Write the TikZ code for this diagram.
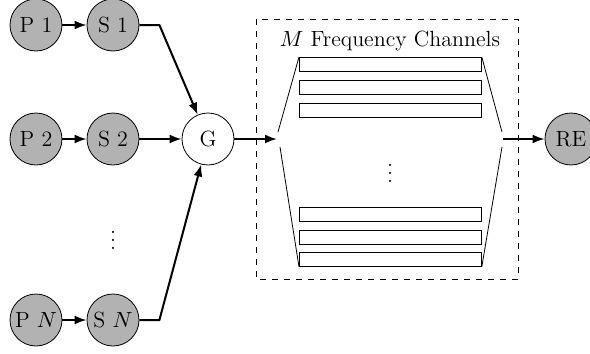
\documentclass[tikz,border=0pt]{standalone}
\usetikzlibrary{arrows.meta}
\begin{document}
\begin{tikzpicture}[x=0.5pt,y=-0.5pt,
  src/.style={circle,draw,fill=black!30,minimum size=26pt,inner sep=0pt,font=\fontsize{11}{13}\selectfont},
  gnode/.style={circle,draw,fill=white,minimum size=26pt,inner sep=0pt,font=\fontsize{11}{13}\selectfont},
  chan/.style={draw,minimum width=91pt,minimum height=7pt,inner sep=0pt,anchor=north west},
  arr/.style={-{Latex[length=6pt,width=4.5pt]},line width=1pt},
  lbl/.style={font=\fontsize{11}{13}\selectfont}]
\useasboundingbox (0,0) rectangle (590,354);
% dashed box
\draw[dashed] (256,19) rectangle (518,279);
\node[lbl] (title) at (390,41) {$M$ Frequency Channels};
% sources
\node[src] (P1) at (36,25) {P 1};
\node[src] (S1) at (113,25) {S 1};
\node[src] (P2) at (36,139) {P 2};
\node[src] (S2) at (113,139) {S 2};
\node[src] (PN) at (36,320) {P $N$};
\node[src] (SN) at (113,320) {S $N$};
\node[lbl] (vd1) at (113,234) {$\vdots$};
\node[gnode] (G) at (208,139) {G};
\node[src] (RE) at (571,139) {RE};
% channels
\node[chan] (c1) at (299,57) {};
\node[chan] (c2) at (299,80) {};
\node[chan] (c3) at (299,103) {};
\node[chan] (c4) at (299,207) {};
\node[chan] (c5) at (299,230) {};
\node[chan] (c6) at (299,252) {};
\node[lbl] (vd2) at (390,167) {$\vdots$};
% trapezoid
\coordinate (lu) at (278,132);
\coordinate (ll) at (280,147);
\coordinate (ru) at (502,132);
\coordinate (rl) at (502,147);
\coordinate (gin) at (277,139);
\coordinate (rout) at (503,139);
\draw (lu) -- (c1.north west);
\draw (ll) -- (c6.south west);
\draw (ru) -- (c1.north east);
\draw (rl) -- (c6.south east);
% arrows
\draw[arr] (P1) -- (S1);
\draw[arr] (P2) -- (S2);
\draw[arr] (PN) -- (SN);
\draw[arr] (S1.east) -- ++(20,0) -- (G);
\draw[arr] (S2) -- (G);
\draw[arr] (SN.east) -- ++(20,0) -- (G);
\draw[arr] (G) -- (gin);
\draw[arr] (rout) -- (RE);
\end{tikzpicture}
\end{document}
